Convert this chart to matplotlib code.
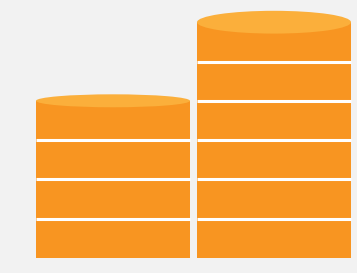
import matplotlib
matplotlib.use("Agg")
import matplotlib.pyplot as plt
from matplotlib.patches import Ellipse

# data
categories = ["A", "B"]
values = [4, 6]          # number of stacked units per column
cap_depth = [0.33, 0.58] # ellipse height of the cylinder top (data units)

bar_color = "#f89521"
cap_color = "#fbaf3b"
bg = "#f2f2f2"

fig = plt.figure(figsize=(3.57, 2.73), dpi=100, facecolor=bg)
ax = fig.add_axes([32.5 / 357, 15 / 273, 322 / 357, 258 / 273])
ax.set_facecolor(bg)
ax.set_xlim(-0.5, 1.5)
ax.set_ylim(0, 258 / 39.3)
ax.axis("off")

width = 154 / 161
x = list(range(len(categories)))
for xi, v, d in zip(x, values, cap_depth):
    for k in range(v):
        ax.bar(xi, 1, bottom=k, width=width, color=bar_color, linewidth=0)
    for k in range(1, v):
        ax.plot([xi - width / 2, xi + width / 2], [k, k], color="white",
                lw=2.2, solid_capstyle="butt")
    ax.add_patch(Ellipse((xi, v), width, d, facecolor=cap_color,
                         edgecolor="none", zorder=3))

fig.savefig("out.png", dpi=100, facecolor=bg)
